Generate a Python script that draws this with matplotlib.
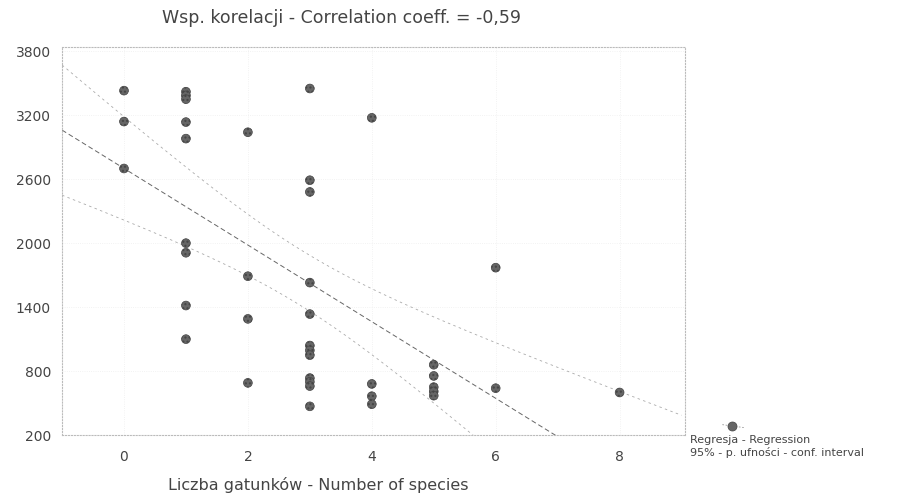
import numpy as np
import matplotlib.pyplot as plt

species = [0, 0, 0,
           1, 1, 1, 1, 1, 1, 1, 1, 1,
           2, 2, 2, 2,
           3, 3, 3, 3, 3, 3, 3, 3, 3, 3, 3, 3,
           4, 4, 4, 4,
           5, 5, 5, 5, 5,
           6, 6,
           8]
values = [3430, 3140, 2700,
          3420, 3385, 3350, 3135, 2980, 2000, 1910, 1415, 1100,
          3040, 1690, 1290, 690,
          3450, 2590, 2480, 1630, 1335, 1040, 995, 950, 735, 700, 660, 470,
          3175, 680, 565, 490,
          860, 755, 650, 610, 570,
          1770, 640,
          600]

x_ticks = [0, 2, 4, 6, 8]
y_ticks = [200, 800, 1400, 2000, 2600, 3200, 3800]

title = 'Wsp. korelacji - Correlation coeff. = -0,59'
xlabel = 'Liczba gatunków - Number of species'
legend_lines = ['Regresja - Regression', '95% - p. ufności - conf. interval']

txt_color = '#444444'
pt_color = '#666666'

x = np.array(species, dtype=float)
y = np.array(values, dtype=float)

# regression + 95% confidence band for the mean
n = len(x)
b, a = np.polyfit(x, y, 1)
resid = y - (a + b * x)
s = np.sqrt(np.sum(resid ** 2) / (n - 2))
sxx = np.sum((x - x.mean()) ** 2)
xs = np.linspace(-1, 9, 200)
fit = a + b * xs
se = s * np.sqrt(1.0 / n + (xs - x.mean()) ** 2 / sxx)
t = 1.9
upper = fit + t * se
lower = fit - t * se

fig = plt.figure(figsize=(9.19, 4.99), dpi=100)
ax = fig.add_axes([0.0675, 0.128, 0.6775, 0.778])

ax.plot(xs, fit, color='#666666', lw=0.7, ls=(0, (5, 3)))
ax.plot(xs, upper, color='#aaaaaa', lw=0.6, ls=(0, (3, 4)))
ax.plot(xs, lower, color='#aaaaaa', lw=0.6, ls=(0, (3, 4)))
ax.scatter(x, y, s=40, color=pt_color, edgecolors='#444444', linewidths=0.5,
           hatch='....', zorder=3)

ax.set_xlim(-1, 9.05)
ax.set_ylim(200, 3840)
ax.set_xticks(x_ticks)
ax.set_yticks(y_ticks)
ax.tick_params(length=0, labelsize=10, colors=txt_color)
ax.tick_params(axis='x', pad=11)
ax.tick_params(axis='y', pad=8)
ax.grid(True, color='#eeeeee', ls=':', lw=0.6)
for sp in ax.spines.values():
    sp.set_linestyle(':')
    sp.set_color('#bbbbbb')
    sp.set_linewidth(0.8)

fig.text(0.372, 0.964, title, ha='center', va='center', fontsize=12.5,
         color=txt_color)
fig.text(0.346, 0.028, xlabel, ha='center', va='center', fontsize=11.5,
         color=txt_color)

# legend drawn by hand outside the axes
fig.add_artist(plt.Line2D([0.786, 0.81], [0.149, 0.143], color='#999999',
                          lw=0.6, ls=(0, (2, 2)), transform=fig.transFigure))
fig.add_artist(plt.Line2D([0.797], [0.147], marker='o', markersize=6.5,
                          color=pt_color, markeredgecolor='#444444',
                          markeredgewidth=0.5, transform=fig.transFigure))
fig.text(0.751, 0.118, legend_lines[0], fontsize=8, color=txt_color,
         va='center')
fig.text(0.751, 0.094, legend_lines[1], fontsize=8, color=txt_color,
         va='center')

fig.savefig('out.png', dpi=100)
